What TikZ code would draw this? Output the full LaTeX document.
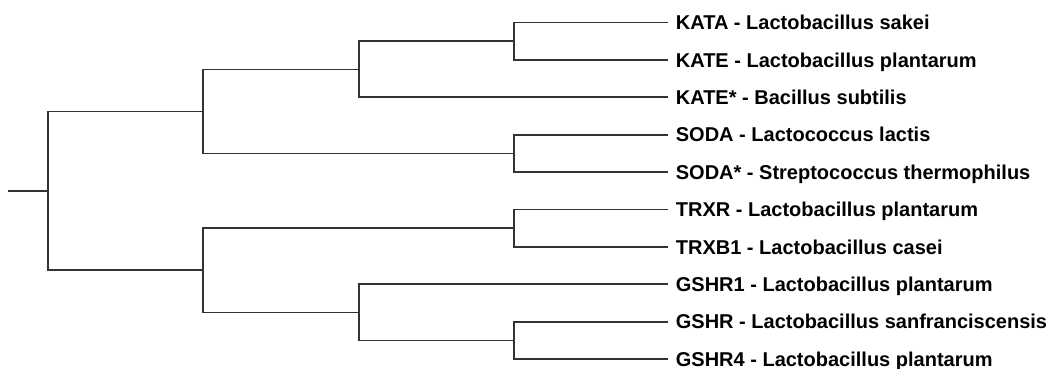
\documentclass[tikz,border=0pt]{standalone}
\usepackage{fontspec}
\setmainfont{Liberation Sans}
\usepackage{tikz}

\begin{document}
\begin{tikzpicture}[x=0.75pt,y=-0.75pt]
\useasboundingbox (0,0) rectangle (1048,368);
\begin{scope}[line width=1.3pt,draw=black!80,
    leaf/.style={anchor=west,inner xsep=5.25pt,inner ysep=0pt,
                 text height=11pt,text depth=0.2pt,
                 font=\fontsize{15}{18}\selectfont\bfseries}]
    % leaves
    \node[leaf] (kata)  at (668,22.5)  {KATA - Lactobacillus sakei};
    \node[leaf] (kate)  at (668,59.9)  {KATE - Lactobacillus plantarum};
    \node[leaf] (kateb) at (668,97.3)  {KATE* - Bacillus subtilis};
    \node[leaf] (soda)  at (668,134.7) {SODA - Lactococcus lactis};
    \node[leaf] (sodab) at (668,172.1) {SODA* - Streptococcus thermophilus};
    \node[leaf] (trxr)  at (668,209.5) {TRXR - Lactobacillus plantarum};
    \node[leaf] (trxb)  at (668,246.9) {TRXB1 - Lactobacillus casei};
    \node[leaf] (gshra) at (668,284.3) {GSHR1 - Lactobacillus plantarum};
    \node[leaf] (gshr)  at (668,321.7) {GSHR - Lactobacillus sanfranciscensis};
    \node[leaf] (gshrd) at (668,359.1) {GSHR4 - Lactobacillus plantarum};

    % inner nodes
    \coordinate (stub)  at (8,190.8);
    \coordinate (root)  at (48,190.8);
    \coordinate (up)    at (203,111.6);
    \coordinate (down)  at (203,270.0);
    \coordinate (kat)   at (359,69.6);
    \coordinate (katx)  at (514,41.2);
    \coordinate (sod)   at (514,153.4);
    \coordinate (trx)   at (514,228.2);
    \coordinate (gsh)   at (359,312.5);
    \coordinate (gshx)  at (514,340.4);

    % branches
    \draw (stub) -- (root);
    \draw (root) |- (up);
    \draw (root) |- (down);

    \draw (up) |- (kat);
    \draw (up) |- (sod);
    \draw (kat) |- (katx);
    \draw (kat) |- (kateb.west);
    \draw (katx) |- (kata.west);
    \draw (katx) |- (kate.west);
    \draw (sod) |- (soda.west);
    \draw (sod) |- (sodab.west);

    \draw (down) |- (trx);
    \draw (down) |- (gsh);
    \draw (trx) |- (trxr.west);
    \draw (trx) |- (trxb.west);
    \draw (gsh) |- (gshra.west);
    \draw (gsh) |- (gshx);
    \draw (gshx) |- (gshr.west);
    \draw (gshx) |- (gshrd.west);
\end{scope}
\end{tikzpicture}
\end{document}
